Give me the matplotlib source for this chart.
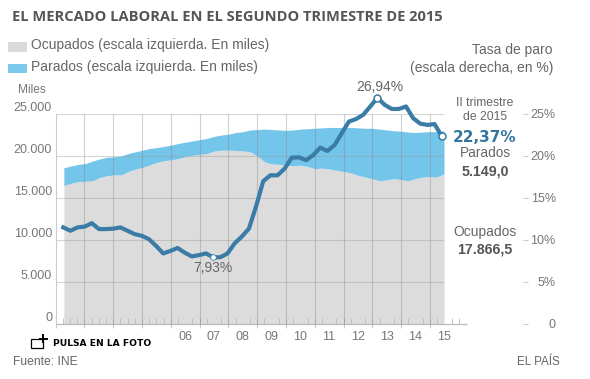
import matplotlib
matplotlib.use('Agg')
import matplotlib.pyplot as plt
from matplotlib.patches import Rectangle
import numpy as np

plt.rcParams['font.family'] = ['Liberation Sans', 'DejaVu Sans']

W, H = 590, 379

# datos trimestrales, 2002 T1 a 2015 T2 (miles y %)
ocupados = [16500, 16750, 16950, 17000, 17050, 17450, 17650, 17750, 17750, 18150,
            18450, 18650, 18950, 19250, 19450, 19550, 19700, 19950, 20100, 20200,
            20300, 20600, 20700, 20700, 20650, 20600, 20500, 20000, 19300, 19050,
            19000, 18900, 18850, 18900, 18750, 18500, 18550, 18450, 18300, 18150,
            18000, 17700, 17500, 17300, 17050, 17150, 17300, 17200, 17050, 17300,
            17500, 17550, 17500, 17866.5]
total = [18600, 18800, 19000, 19100, 19400, 19650, 19850, 19900, 20000, 20300,
         20500, 20700, 20900, 21000, 21150, 21300, 21500, 21650, 21800, 21950,
         22100, 22350, 22500, 22600, 22800, 22900, 23100, 23150, 23200, 23150,
         23100, 23050, 23100, 23200, 23250, 23300, 23350, 23400, 23400, 23400,
         23400, 23350, 23300, 23300, 23200, 23100, 23000, 22950, 22850, 22800,
         22850, 22900, 22900, 23015.5]
tasa_paro = [11.5, 11.1, 11.5, 11.6, 12.0, 11.3, 11.3, 11.35, 11.5, 11.1,
             10.7, 10.5, 10.1, 9.3, 8.4, 8.7, 9.05, 8.5, 8.05, 8.2,
             8.4, 7.93, 7.95, 8.4, 9.6, 10.4, 11.35, 14.0, 17.0, 17.7,
             17.7, 18.5, 19.8, 19.85, 19.5, 20.1, 21.0, 20.6, 21.3, 22.7,
             24.1, 24.4, 24.9, 25.9, 26.94, 26.1, 25.6, 25.6, 25.9, 24.5,
             23.85, 23.7, 23.8, 22.37]

anios = list(range(2002, 2016))
etiquetas_anios = ['06', '07', '08', '09', '10', '11', '12', '13', '14', '15']
pos_etiquetas = [2006.5 + i for i in range(10)]
ticks_izq = [0, 5000, 10000, 15000, 20000, 25000]
etiq_izq = ['0', '5.000', '10.000', '15.000', '20.000', '25.000']
ticks_der = [0, 5, 10, 15, 20, 25]
etiq_der = ['0', '5%', '10%', '15%', '20%', '25%']

GRIS = '#dcdcdc'
AZUL = '#74c5ea'
LINEA = '#3a7ca5'
TEXTO = '#666666'
TEXTO2 = '#777777'

fig = plt.figure(figsize=(W / 100, H / 100), dpi=100)

bottom = (H - 324) / H
height = 210 / H

# escala derecha
ax2 = fig.add_axes([55.5 / W, bottom, (523 - 55.5) / W, height])
ax2.set_ylim(0, 25)
ax2.set_xticks([])
for s in ax2.spines.values():
    s.set_visible(False)
ax2.yaxis.tick_right()
ax2.set_yticks(ticks_der, labels=etiq_der)
ax2.tick_params(axis='y', length=3.6, width=0.8, color='#cccccc', labelcolor=TEXTO2,
                labelsize=9, pad=20)
for t in ax2.get_yticklabels():
    t.set_ha('right')

# grafico principal
ax = fig.add_axes([55.5 / W, bottom, (467 - 55.5) / W, height])
ax.patch.set_alpha(0)
ax.set_xlim(2002, 2002 + (467 - 55.5) / 28.8)
ax.set_ylim(0, 25000)
for s in ax.spines.values():
    s.set_visible(False)

x_area = np.linspace(2002.29, 2015.49, len(ocupados))
x_linea = np.linspace(2002.27, 2015.41, len(tasa_paro))

ax.fill_between(x_area, 0, ocupados, color=GRIS, lw=0, zorder=1)
ax.fill_between(x_area, ocupados, total, color=AZUL, lw=0, zorder=1)

fin_grid = x_area[-1]
ax.hlines(ticks_izq[1:], 2002, fin_grid, color='#999999', alpha=0.4, lw=0.8, zorder=2)
ax.hlines(0, 2002, 2016.29, color='#bbbbbb', lw=0.9, zorder=2, clip_on=False)
ax.vlines(anios[1:], -480, 25000, color='#888888', alpha=0.4, lw=0.8, zorder=2, clip_on=False)
ax.vlines(anios[0], -480, 25000, color='#cccccc', lw=0.8, zorder=2, clip_on=False)

ax.plot(x_linea, np.array(tasa_paro) * 1000, color=LINEA, lw=3, zorder=4,
        clip_on=False, solid_joinstyle='round')
ax.plot(x_linea[21], tasa_paro[21] * 1000, 'o', ms=4, mfc='white', mec=LINEA, mew=0.6,
        zorder=5, clip_on=False)
for i in [44, 53]:
    ax.plot(x_linea[i], tasa_paro[i] * 1000, 'o', ms=5, mfc='white', mec=LINEA, mew=1.1,
            zorder=5, clip_on=False)

ax.set_yticks(ticks_izq, labels=etiq_izq)
ax.tick_params(axis='y', length=0, labelcolor=TEXTO2, labelsize=9, pad=2.5)
for t in ax.get_yticklabels():
    t.set_va('bottom')
ax.set_xticks(pos_etiquetas, labels=etiquetas_anios)
ax.tick_params(axis='x', length=0, labelcolor=TEXTO2, labelsize=9, pad=5)
ax.set_xticks(np.arange(2002, 2016.1, 0.25), minor=True)
ax.tick_params(axis='x', which='minor', direction='in', length=4, width=0.6, color='#bbbbbb')

# capa de textos en pixeles
px = fig.add_axes([0, 0, 1, 1])
px.set_xlim(0, W)
px.set_ylim(H, 0)
px.axis('off')
px.patch.set_alpha(0)


def txt(x, y, s, ha='center', size=9, color=TEXTO, **kw):
    px.text(x, y, s, ha=ha, va='center', fontsize=size, color=color, **kw)


txt(12, 17, 'EL MERCADO LABORAL EN EL SEGUNDO TRIMESTRE DE 2015', ha='left', size=10.5,
    color='#555555', family='Open Sans', fontweight='bold')

px.add_patch(Rectangle((8, 42), 19, 10, color='#dadada', lw=0))
px.add_patch(Rectangle((8, 64), 19, 9, color='#7ccbed', lw=0))
txt(31, 45, 'Ocupados (escala izquierda. En miles)', ha='left', size=10)
txt(31, 67, 'Parados (escala izquierda. En miles)', ha='left', size=10)
txt(553, 50, 'Tasa de paro', ha='right', size=10)
txt(553, 68, '(escala derecha, en %)', ha='right', size=10)
txt(18, 90, 'Miles', ha='left', size=8.6, color=TEXTO2)

txt(380, 87, '26,94%', size=10)
txt(213, 268, '7,93%', size=10)
txt(485, 103, 'II trimestre', size=8.7)
txt(485, 117, 'de 2015', size=8.7)
txt(485, 137, '22,37%', size=11, color='#33759f', family='DejaVu Sans', fontweight='bold')
txt(485, 153, 'Parados', size=9.8)
txt(485, 171, '5.149,0', size=10.2, color='#555555', fontweight='bold')
txt(485, 232, 'Ocupados', size=10)
txt(485, 250, '17.866,5', size=10.2, color='#555555', fontweight='bold')

txt(13, 362, 'Fuente: INE', ha='left', size=8.7)
txt(560, 362, 'EL PAÍS', ha='right', size=8.4)

# boton de foto
px.add_patch(Rectangle((30.5, 338.5), 12.5, 9, fill=False, ec='black', lw=0.9))
px.plot([43, 43], [335, 342], color='black', lw=1.4)
px.plot([39.5, 46.5], [338.5, 338.5], color='black', lw=1.4)
txt(53, 343, 'PULSA EN LA FOTO', ha='left', size=6.6, color='black',
    family='DejaVu Sans', fontweight='bold')

fig.savefig('out.png', dpi=100)
